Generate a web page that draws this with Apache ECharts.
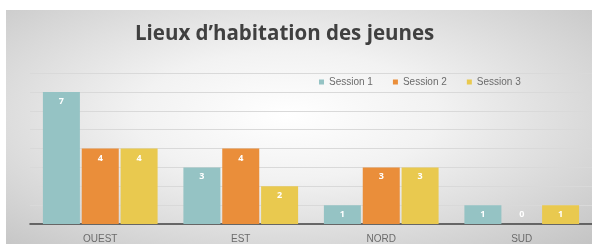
<!DOCTYPE html>
<html>
<head>
<meta charset="utf-8">
<script src="https://cdn.jsdelivr.net/npm/echarts@6/dist/echarts.min.js"></script>
<style>
  html, body { margin: 0; padding: 0; background: #fff; }
  #bg {
    position: absolute; left: 6px; top: 10px; width: 586px; height: 234px;
    background: radial-gradient(ellipse at 48% 45%, #ffffff 0%, #f2f2f2 35%, #d6d6d6 75%, #c4c4c4 100%);
  }
  #chart { position: absolute; left: 0; top: 0; width: 592px; height: 244px; }
</style>
</head>
<body>
<div id="bg"></div>
<div id="chart"></div>
<script>
const categories = ['OUEST', 'EST', 'NORD', 'SUD']
const session1 = [7, 3, 1, 1]
const session2 = [4, 4, 3, 0]
const session3 = [4, 2, 3, 1]
const seriesNames = ['Session 1', 'Session 2', 'Session 3']
const colors = ['#95c3c4', '#ea8e3a', '#e9c94f']

const chart = echarts.init(document.getElementById('chart'))

// zero-height bars get their label above the baseline
function withLabels(values) {
  return values.map(v => v === 0 ? { value: v, label: { position: 'top' } } : v)
}

chart.setOption({
  animation: false,
  title: {
    text: 'Lieux d\u2019habitation des jeunes',
    left: 130,
    top: 19,
    textStyle: { fontFamily: 'Open Sans', fontWeight: 'bold', fontSize: 20.5, color: '#404040' },
  },
  legend: {
    data: seriesNames,
    left: 314,
    top: 72,
    itemWidth: 5,
    itemHeight: 5,
    itemGap: 20,
    icon: 'rect',
    textStyle: { fontFamily: 'Liberation Sans', fontSize: 10, color: '#6b6b6b' },
  },
  grid: { left: 30, right: -1, top: 73, bottom: 19, containLabel: false },
  xAxis: {
    type: 'category',
    data: categories,
    axisLine: { lineStyle: { color: '#404040', width: 1.5 } },
    axisTick: { show: false },
    axisLabel: { fontFamily: 'Liberation Sans', fontSize: 10, color: '#6b6b6b', margin: 10 },
  },
  yAxis: {
    type: 'value',
    min: 0,
    max: 8,
    interval: 1,
    axisLabel: { show: false },
    axisLine: { show: false },
    splitLine: { lineStyle: { color: '#d9d9d9' } },
  },
  series: [session1, session2, session3].map((vals, i) => ({
    name: seriesNames[i],
    type: 'bar',
    data: withLabels(vals),
    barWidth: 37,
    barGap: '5%',
    itemStyle: { color: colors[i] },
    label: {
      show: true,
      position: 'insideTop',
      color: '#fff',
      fontFamily: 'Open Sans',
      fontWeight: 'bold',
      fontSize: 9,
    },
  })),
})
</script>
</body>
</html>
